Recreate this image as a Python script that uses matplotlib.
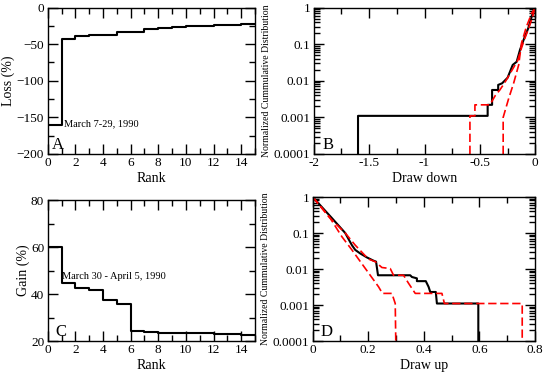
import numpy as np
import matplotlib
matplotlib.use("Agg")
import matplotlib.pyplot as plt
from matplotlib.ticker import MultipleLocator, LogLocator, NullFormatter, FixedLocator

plt.rcParams['font.family'] = ['Liberation Serif', 'DejaVu Serif']
plt.rcParams['font.size'] = 9

# ---------------- data ----------------
# Panel A: loss (%) by rank (step values for rank intervals [r, r+1))
rank_a = [0, 1, 2, 3, 4, 5, 6, 7, 8, 9, 10, 11, 12, 13, 14, 15]
loss_a = [-160, -43, -39, -37.5, -37, -34, -33, -29.5, -28, -27, -25.5, -25, -24, -23.5, -22.5, -22]

# Panel C: gain (%) by rank
rank_c = [0, 1, 2, 3, 4, 5, 6, 7, 8, 9, 10, 11, 12, 13, 14, 15]
gain_c = [60, 44.9, 42.8, 41.9, 37.4, 35.9, 24.3, 24.0, 23.4, 23.3, 23.3, 23.2, 23.1, 22.8, 22.6, 22.6]

# Panel B: cumulative distribution of draw downs
dd_data_x = [-1.60, -1.60, -0.43, -0.43, -0.39, -0.39, -0.335, -0.335, -0.30, -0.25, -0.204,
             -0.168, -0.138, -0.10, -0.064, -0.033, -0.017, 0.0]
dd_data_y = [1e-4, 0.0011, 0.0011, 0.0022, 0.0022, 0.0056, 0.0056, 0.0077, 0.0085, 0.0121, 0.027,
             0.033, 0.07, 0.145, 0.27, 0.56, 0.8, 1.0]
dd_fit1_x = [-0.59, -0.59, -0.545, -0.545, -0.41, -0.36, -0.32, -0.28, -0.25, -0.20, -0.16,
             -0.13, -0.10, -0.06, -0.03, 0.0]
dd_fit1_y = [1e-4, 0.0011, 0.0011, 0.0022, 0.0022, 0.004, 0.0056, 0.0085, 0.012, 0.022, 0.035,
             0.07, 0.13, 0.27, 0.5, 1.0]
dd_fit2_x = [-0.29, -0.29, -0.24, -0.195, -0.15, -0.125, -0.08, -0.033, 0.0]
dd_fit2_y = [1e-4, 0.001, 0.0033, 0.0087, 0.027, 0.105, 0.30, 0.69, 1.0]

# Panel D: cumulative distribution of draw ups
du_data_x = [0.0, 0.069, 0.117, 0.141, 0.153, 0.171, 0.195, 0.219, 0.228, 0.235, 0.351, 0.357,
             0.375, 0.375, 0.407, 0.417, 0.423, 0.443, 0.447, 0.596, 0.596]
du_data_y = [1.0, 0.26, 0.1, 0.046, 0.034, 0.027, 0.021, 0.017, 0.016, 0.0067, 0.0067, 0.006,
             0.0055, 0.0046, 0.0046, 0.0032, 0.0023, 0.0023, 0.0011, 0.0011, 1e-4]
du_fit1_x = [0.0, 0.06, 0.105, 0.141, 0.177, 0.207, 0.237, 0.251, 0.285, 0.297, 0.299]
du_fit1_y = [1.0, 0.28, 0.079, 0.034, 0.014, 0.0067, 0.0032, 0.0021, 0.0021, 0.0011, 1e-4]
du_fit2_x = [0.0, 0.06, 0.117, 0.153, 0.20, 0.225, 0.249, 0.279, 0.291, 0.327, 0.345, 0.369,
             0.465, 0.474, 0.754, 0.754]
du_fit2_y = [1.0, 0.27, 0.1, 0.046, 0.019, 0.016, 0.011, 0.0103, 0.0067, 0.0067, 0.004, 0.0021,
             0.0021, 0.0011, 0.0011, 1e-4]

# ---------------- layout ----------------
W, H = 545, 374
fig = plt.figure(figsize=(W / 100, H / 100), dpi=100)


def box(l, r, t, b):
    return [l / W, (H - b) / H, (r - l) / W, (b - t) / H]


axA = fig.add_axes(box(47.7, 255, 7.5, 154))
axB = fig.add_axes(box(313.7, 535.3, 7.5, 154))
axC = fig.add_axes(box(47.7, 255, 200.3, 341))
axD = fig.add_axes(box(312.7, 535, 197, 341))

lw_black = 1.5
lw_red = 1.2
dash = (0, (5, 2.2))


def style(ax):
    ax.tick_params(which='both', direction='in', top=True, right=True, labelsize=9.5,
                   width=1.0, pad=2.5)
    ax.tick_params(which='major', length=7)
    ax.tick_params(which='minor', length=4)
    for s in ax.spines.values():
        s.set_linewidth(1.0)


# Panel A
axA.step(rank_a, loss_a, where='post', color='black', lw=lw_black)
axA.set_xlim(0, 15)
axA.set_ylim(-200, 0)
axA.xaxis.set_major_locator(MultipleLocator(2))
axA.xaxis.set_minor_locator(MultipleLocator(1))
axA.yaxis.set_major_locator(MultipleLocator(50))
axA.yaxis.set_minor_locator(MultipleLocator(25))
axA.set_xlabel('Rank', fontsize=10, labelpad=2)
axA.set_ylabel('Loss (%)', fontsize=10, labelpad=1)
axA.text(1.2, -159, 'March 7-29, 1990', fontsize=7.5, va='center', ha='left')
axA.text(0.018, 0.06, 'A', transform=axA.transAxes, fontsize=12, va='center', ha='left')
style(axA)

# Panel C
axC.step(rank_c, gain_c, where='post', color='black', lw=lw_black)
axC.set_xlim(0, 15)
axC.set_ylim(20, 80)
axC.xaxis.set_major_locator(MultipleLocator(2))
axC.xaxis.set_minor_locator(MultipleLocator(1))
axC.yaxis.set_major_locator(MultipleLocator(20))
axC.yaxis.set_minor_locator(MultipleLocator(10))
axC.set_xlabel('Rank', fontsize=10, labelpad=2)
axC.set_ylabel('Gain (%)', fontsize=10, labelpad=1)
axC.text(1.0, 47.3, 'March 30 - April 5, 1990', fontsize=7.5, va='center', ha='left')
axC.text(0.035, 0.065, 'C', transform=axC.transAxes, fontsize=12, va='center', ha='left')
style(axC)


def logstyle(ax):
    ax.set_yscale('log')
    ax.set_ylim(1e-4, 1)
    ax.yaxis.set_major_locator(FixedLocator([1e-4, 1e-3, 1e-2, 1e-1, 1]))
    ax.yaxis.set_minor_locator(LogLocator(base=10, subs=np.arange(2, 10), numticks=20))
    ax.yaxis.set_minor_formatter(NullFormatter())
    ax.set_yticklabels(['0.0001', '0.001', '0.01', '0.1', '1'])
    ax.set_ylabel('Normalized Cummulative Distribution', fontsize=7, labelpad=2)


# Panel B
axB.plot(dd_data_x, dd_data_y, color='black', lw=lw_black)
axB.plot(dd_fit1_x, dd_fit1_y, color='red', lw=lw_red, ls=dash)
axB.plot(dd_fit2_x, dd_fit2_y, color='red', lw=lw_red, ls=dash)
axB.set_xlim(-2, 0)
axB.xaxis.set_minor_locator(MultipleLocator(0.25))
logstyle(axB)
axB.set_xticks([-2, -1.5, -1, -0.5, 0])
axB.set_xticklabels(['-2', '-1.5', '-1', '-0.5', '0'])
axB.set_xlabel('Draw down', fontsize=10, labelpad=2)
axB.text(0.04, 0.06, 'B', transform=axB.transAxes, fontsize=12, va='center', ha='left')
style(axB)

# Panel D
axD.plot(du_data_x, du_data_y, color='black', lw=lw_black)
axD.plot(du_fit1_x, du_fit1_y, color='red', lw=lw_red, ls=dash)
axD.plot(du_fit2_x, du_fit2_y, color='red', lw=lw_red, ls=dash)
axD.set_xlim(0, 0.8)
axD.set_xticks([0, 0.2, 0.4, 0.6, 0.8])
axD.set_xticklabels(['0', '0.2', '0.4', '0.6', '0.8'])
axD.xaxis.set_minor_locator(MultipleLocator(0.1))
logstyle(axD)
axD.set_xlabel('Draw up', fontsize=10, labelpad=2)
axD.text(0.035, 0.06, 'D', transform=axD.transAxes, fontsize=12, va='center', ha='left')
style(axD)

fig.savefig('out.png', dpi=100)
